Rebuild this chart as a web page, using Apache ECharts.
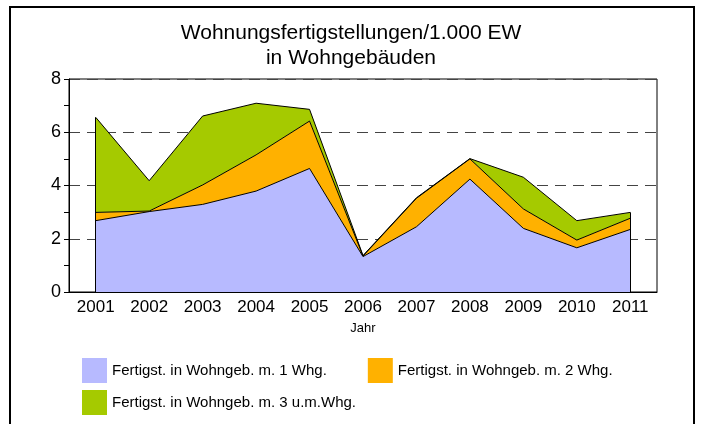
<!DOCTYPE html>
<html>
<head>
<meta charset="utf-8">
<script src="https://cdn.jsdelivr.net/npm/echarts@6/dist/echarts.min.js"></script>
<style>
  html, body { margin: 0; padding: 0; background: #fff; }
  #chart { width: 702px; height: 424px; }
</style>
</head>
<body>
<div id="chart"></div>
<script>
'use strict';

var years = ['2001', '2002', '2003', '2004', '2005', '2006', '2007', '2008', '2009', '2010', '2011'];
var seriesNames = [
    'Fertigst. in Wohngeb. m. 1 Whg.',
    'Fertigst. in Wohngeb. m. 2 Whg.',
    'Fertigst. in Wohngeb. m. 3 u.m.Whg.'
];
// values per 1.000 EW, stacked
var oneFlat   = [2.68, 3.02, 3.29, 3.79, 4.64, 1.33, 2.45, 4.24, 2.39, 1.66, 2.35];
var twoFlats  = [0.31, 0.02, 0.73, 1.36, 1.78, 0.02, 1.07, 0.76, 0.73, 0.29, 0.42];
var threeMore = [3.57, 1.14, 2.59, 1.94, 0.44, 0.02, 0.02, 0.01, 1.19, 0.73, 0.22];
var yTicks = [0, 2, 4, 6, 8];

var colors = ['#B7BAFF', '#FFB100', '#A5CA00'];
var font = 'Liberation Sans, Arial, sans-serif';

var myChart = echarts.init(document.getElementById('chart'));

function areaSeries(name, values, color){
    return {
        name: name,
        type: 'line',
        stack: 'total',
        data: values,
        symbol: 'none',
        itemStyle: {color: color},
        lineStyle: {color: '#000', width: 1},
        areaStyle: {color: color, opacity: 1}
    };
}

// vertical outline at both ends of the stacked area
function edgeLine(i){
    var top = oneFlat[i] + twoFlats[i] + threeMore[i];
    return [{coord: [years[i], 0]}, {coord: [years[i], top]}];
}

var legendText = {fontFamily: font, fontSize: 15, color: '#000'};

var option = {
    animation: false,
    backgroundColor: '#fff',
    title: {
        text: 'Wohnungsfertigstellungen/1.000 EW\nin Wohngebäuden',
        left: 'center',
        top: 16,
        textStyle: {fontFamily: font, fontSize: 21, fontWeight: 'normal', color: '#000', lineHeight: 25}
    },
    legend: [{
        data: [seriesNames[0], seriesNames[1]],
        left: 77,
        top: 353,
        icon: 'rect',
        itemWidth: 25,
        itemHeight: 25,
        itemGap: 41,
        itemStyle: {borderWidth: 0},
        textStyle: legendText
    }, {
        data: [seriesNames[2]],
        left: 77,
        top: 385,
        icon: 'rect',
        itemWidth: 25,
        itemHeight: 25,
        itemStyle: {borderWidth: 0},
        textStyle: legendText
    }],
    grid: {
        left: 69,
        right: 45,
        top: 79,
        bottom: 132,
        show: true,
        borderColor: '#000',
        borderWidth: 1
    },
    xAxis: {
        type: 'category',
        data: years,
        boundaryGap: true,
        name: 'Jahr',
        nameLocation: 'middle',
        nameGap: 30,
        nameTextStyle: {fontFamily: font, fontSize: 13, color: '#000'},
        axisLine: {lineStyle: {color: '#000', width: 1}},
        axisTick: {alignWithLabel: true, length: 4, lineStyle: {color: '#000'}},
        axisLabel: {fontFamily: font, fontSize: 17, color: '#000', margin: 7}
    },
    yAxis: {
        type: 'value',
        min: yTicks[0],
        max: yTicks[yTicks.length - 1],
        interval: 2,
        axisLine: {show: true, lineStyle: {color: '#000', width: 1}},
        axisTick: {show: true, length: 5, lineStyle: {color: '#000'}},
        minorTick: {show: true, splitNumber: 2, length: 5, lineStyle: {color: '#000'}},
        axisLabel: {fontFamily: font, fontSize: 18, color: '#000', margin: 8},
        splitLine: {show: true, lineStyle: {color: '#444', width: 1.2, type: [11, 7]}}
    },
    series: [
        areaSeries(seriesNames[0], oneFlat, colors[0]),
        areaSeries(seriesNames[1], twoFlats, colors[1]),
        areaSeries(seriesNames[2], threeMore, colors[2])
    ],
    graphic: [{
        type: 'rect',
        silent: true,
        shape: {x: 10, y: 7, width: 684, height: 440},
        style: {fill: 'none', stroke: '#000', lineWidth: 2}
    }]
};

option.series[2].markLine = {
    silent: true,
    symbol: 'none',
    label: {show: false},
    lineStyle: {color: '#000', width: 1, type: 'solid'},
    data: [edgeLine(0), edgeLine(years.length - 1)]
};

myChart.setOption(option);
</script>
</body>
</html>
